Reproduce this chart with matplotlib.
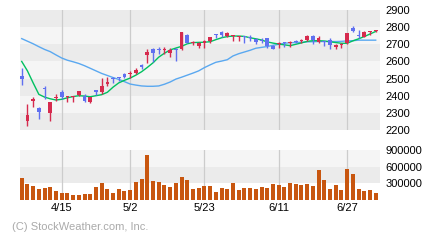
import numpy as np
import matplotlib
matplotlib.use('Agg')
import matplotlib.pyplot as plt

plt.rcParams['font.family'] = ['Liberation Sans', 'DejaVu Sans']

# Daily prices
opens = [2515, 2255, 2370, 2330, 2445, 2301, 2385, 2420, 2390, 2390,
         2405, 2400, 2366, 2433, 2423, 2468, 2500, 2510, 2527, 2525,
         2534, 2575, 2637, 2671, 2673, 2668, 2647, 2672, 2672, 2754,
         2707, 2692, 2705, 2721, 2756, 2773, 2750, 2746, 2742, 2746,
         2742, 2729, 2722, 2735, 2692, 2700, 2712, 2705, 2717, 2717,
         2725, 2750, 2713, 2717, 2725, 2687, 2696, 2705, 2797, 2755,
         2745, 2772, 2779]
closes = [2500, 2288, 2378, 2307, 2438, 2363, 2392, 2395, 2395, 2396,
          2428, 2372, 2390, 2422, 2457, 2482, 2495, 2505, 2508, 2533,
          2550, 2570, 2657, 2651, 2668, 2673, 2667, 2668, 2770, 2710,
          2712, 2705, 2719, 2741, 2752, 2752, 2764, 2750, 2746, 2742,
          2737, 2716, 2718, 2688, 2673, 2708, 2708, 2710, 2713, 2722,
          2750, 2725, 2738, 2713, 2694, 2692, 2701, 2764, 2780, 2750,
          2772, 2777, 2784]
highs = [2560, 2350, 2395, 2336, 2457, 2366, 2408, 2433, 2400, 2398,
         2430, 2410, 2392, 2435, 2505, 2507, 2511, 2511, 2533, 2544,
         2562, 2583, 2671, 2677, 2686, 2686, 2677, 2677, 2772, 2760,
         2721, 2715, 2725, 2742, 2760, 2779, 2773, 2754, 2750, 2746,
         2752, 2735, 2735, 2737, 2696, 2713, 2715, 2721, 2727, 2730,
         2754, 2754, 2746, 2721, 2735, 2700, 2709, 2766, 2808, 2783,
         2775, 2780, 2786]
lows = [2460, 2225, 2336, 2265, 2380, 2255, 2370, 2381, 2365, 2365,
        2400, 2365, 2360, 2405, 2410, 2457, 2476, 2488, 2505, 2502,
        2527, 2555, 2593, 2598, 2643, 2643, 2628, 2604, 2668, 2706,
        2696, 2680, 2680, 2708, 2735, 2744, 2741, 2721, 2721, 2709,
        2721, 2700, 2705, 2680, 2670, 2680, 2683, 2686, 2705, 2709,
        2721, 2700, 2709, 2692, 2671, 2675, 2680, 2700, 2773, 2735,
        2740, 2755, 2770]

# Short and long moving averages
ma_short = [2600, 2545, 2475, 2408, 2392, 2382, 2375, 2379, 2388, 2395,
            2400, 2398, 2394, 2400, 2406, 2420, 2450, 2475, 2490, 2503,
            2520, 2540, 2565, 2592, 2625, 2648, 2667, 2678, 2688, 2703,
            2710, 2711, 2712, 2715, 2727, 2738, 2745, 2748, 2748, 2746,
            2738, 2732, 2725, 2714, 2707, 2701, 2697, 2692, 2700, 2708,
            2717, 2721, 2721, 2719, 2715, 2710, 2706, 2706, 2720, 2732,
            2745, 2760, 2775]
ma_long = [2733, 2718, 2703, 2686, 2670, 2657, 2638, 2620, 2607, 2598,
           2588, 2575, 2560, 2545, 2530, 2518, 2506, 2495, 2482, 2468,
           2462, 2457, 2455, 2455, 2457, 2467, 2480, 2497, 2508, 2520,
           2532, 2545, 2564, 2580, 2595, 2602, 2610, 2632, 2645, 2655,
           2665, 2677, 2682, 2687, 2694, 2700, 2706, 2709, 2710, 2712,
           2714, 2715, 2716, 2716, 2716, 2716, 2717, 2720, 2721, 2724,
           2724, 2724, 2724]

volumes = [402000, 294000, 252000, 198000, 210000, 234000, 162000, 126000, 126000, 90000,
           90000, 114000, 114000, 234000, 306000, 198000, 126000, 198000, 162000, 180000,
           324000, 378000, 810000, 342000, 324000, 270000, 234000, 306000, 414000, 360000,
           198000, 216000, 252000, 252000, 144000, 216000, 198000, 306000, 180000, 216000,
           216000, 198000, 234000, 216000, 288000, 270000, 234000, 306000, 288000, 270000,
           288000, 252000, 540000, 360000, 198000, 270000, 180000, 558000, 468000, 198000,
           162000, 180000, 126000]

date_idx = [7, 19, 32, 45, 57]
date_labels = ['4/15', '5/2', '5/23', '6/11', '6/27']
price_ticks = [2200, 2300, 2400, 2500, 2600, 2700, 2800, 2900]
vol_ticks = [300000, 600000, 900000]

UP = '#d62b4e'
DOWN = '#6070f0'
DARK = '#ebebeb'
LIGHT = '#f5f5f5'

x = np.arange(len(opens))
o = np.array(opens)
c = np.array(closes)
cols = [UP if cc >= oo else DOWN for oo, cc in zip(o, c)]

fig = plt.figure(figsize=(4.4, 2.4), dpi=100)
ax = fig.add_axes([20 / 440, 110 / 240, 360 / 440, 120 / 240])
axv = fig.add_axes([20 / 440, 40 / 240, 360 / 440, 50 / 240])

# price panel background bands
for i, lo in enumerate(range(2200, 2900, 100)):
    ax.axhspan(lo, lo + 100, color=DARK if i % 2 == 0 else LIGHT, lw=0, zorder=0)
# volume panel bands
axv.axhspan(0, 300000, color='white', lw=0, zorder=0)
axv.axhspan(300000, 600000, color=DARK, lw=0, zorder=0)
axv.axhspan(600000, 900000, color=LIGHT, lw=0, zorder=0)

for a in (ax, axv):
    for d in date_idx:
        a.axvline(d, color='#cccccc', lw=0.9, zorder=1)

ax.plot(x, ma_long, color='#5aa8f0', lw=1, zorder=2)
ax.plot(x, ma_short, color='#00c060', lw=1, zorder=2)

ax.vlines(x, lows, highs, colors=cols, lw=1, zorder=3)
body = np.maximum(np.abs(c - o), 7)
ax.bar(x, body, bottom=np.minimum(o, c), width=0.65, color=cols, lw=0, zorder=4)

axv.bar(x, volumes, width=0.7, color='#c8560f', lw=0, zorder=3)

for a in (ax, axv):
    a.set_xlim(-0.3, 62.75)
    for s in a.spines.values():
        s.set_visible(False)
    a.yaxis.tick_right()
    a.tick_params(axis='y', length=0, pad=4, labelsize=8)
    a.tick_params(axis='x', length=0)

ax.set_ylim(2200, 2900)
ax.set_yticks(price_ticks)
ax.set_xticks([])

axv.set_ylim(0, 900000)
axv.set_yticks(vol_ticks)
axv.set_yticklabels([str(v) for v in vol_ticks])
axv.set_xticks(date_idx)
axv.set_xticklabels(date_labels, fontsize=8)
axv.tick_params(axis='x', pad=2)

fig.text(12 / 440, 1 - 227 / 240, '(C) StockWeather.com, Inc.', color='#aaaaaa',
         fontsize=8, va='center', ha='left')

fig.savefig('out.png', dpi=100)
